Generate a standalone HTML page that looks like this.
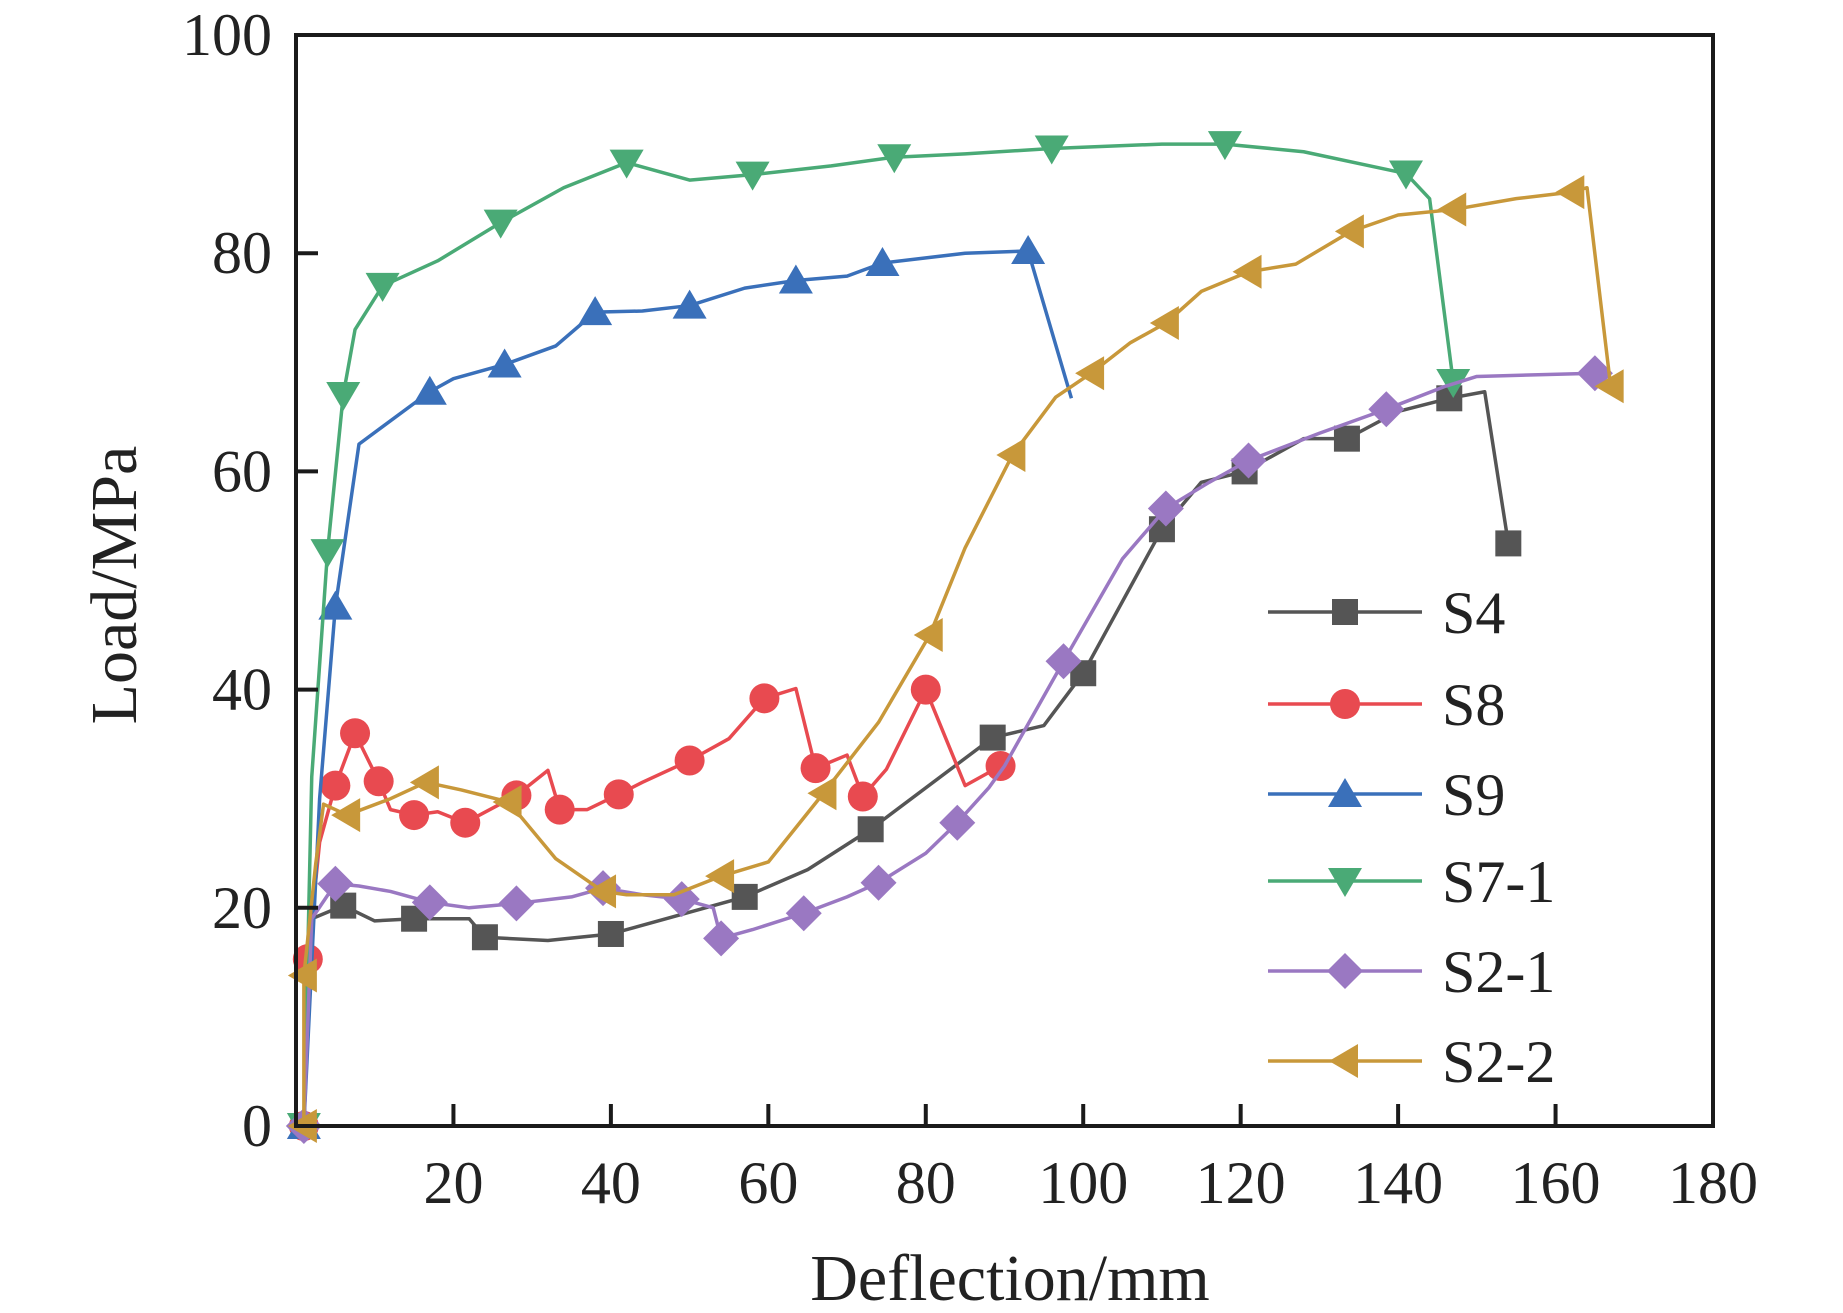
<!DOCTYPE html>
<html><head><meta charset="utf-8"><style>
html,body{margin:0;padding:0;background:#fff;}
svg{display:block;}
text{font-family:"Liberation Serif",serif;fill:#222;}
</style></head><body>
<svg id="chart" width="1843" height="1313" viewBox="0 0 1843 1313" xmlns="http://www.w3.org/2000/svg">
<g id="plot"></g>
<g id="axes"></g>
<g id="legend"></g>
</svg>
<script>
const seriesNames = ["S4","S8","S9","S7-1","S2-1","S2-2"];
const seriesColors = ["#555555","#e84a50","#3a70ba","#4aaa76","#9a78c2","#c8983a"];
const seriesMarkers = ["square","circle","up","down","diamond","left"];
// each point: [deflection, load, hasMarker]
const s4 = [[1,0,1],[2,19,0],[6,20.2,1],[10,18.8,0],[15,19,1],[22,19,0],[24,17.3,1],[32,17,0],[40,17.6,1],[57,21,1],[65,23.5,0],[73,27.2,1],[88.5,35.6,1],[95,36.7,0],[100,41.5,1],[110,54.7,1],[115,59,0],[120.5,60,1],[128,63,0],[133.5,63,1],[140,65.5,0],[146.5,66.7,1],[151,67.3,0],[154,53.4,1]];
const s8 = [[1,0,1],[1.5,15.3,1],[3,26,0],[5,31.2,1],[7.5,36,1],[10.5,31.6,1],[12,29,0],[15,28.5,1],[18,28.8,0],[21.5,27.8,1],[28,30.3,1],[32,32.6,0],[33.5,29,1],[37,29,0],[41,30.4,1],[44,31.5,0],[50,33.5,1],[55,35.5,0],[59.5,39.2,1],[63.5,40.1,0],[66,32.8,1],[70,34,0],[72,30.2,1],[75,32.7,0],[80,40,1],[85,31.2,0],[89.5,33,1]];
const s9 = [[1,0,1],[3,30,0],[5,47.6,1],[8,62.5,0],[17,67.3,1],[20,68.5,0],[26.5,69.8,1],[33,71.5,0],[38,74.6,1],[44,74.7,0],[50,75.2,1],[57,76.8,0],[63.5,77.5,1],[70,77.9,0],[74.5,79.1,1],[85,80,0],[93,80.2,1],[98.5,66.7,0]];
const s71 = [[1,0,1],[2,32,0],[4,52.6,1],[6,67,1],[7.5,73,0],[11,77,1],[18,79.3,0],[26,82.8,1],[34,86,0],[42,88.3,1],[50,86.7,0],[58,87.2,1],[68,88,0],[76,88.8,1],[85,89.1,0],[96,89.6,1],[110,90,0],[118,90,1],[128,89.3,0],[141,87.3,1],[144,85,0],[147,68.2,1]];
const s21 = [[1,0,1],[2,19,0],[5,22.2,1],[8,22,0],[12,21.5,0],[17,20.5,1],[22,20,0],[28,20.4,1],[35,21,0],[39,21.8,1],[44,21.2,0],[49,20.8,1],[53,20,0],[54,17.2,1],[58,18,0],[64.5,19.5,1],[70,21,0],[74,22.3,1],[80,25,0],[84,27.8,1],[88,31,0],[90,33,0],[97.5,42.6,1],[105,52,0],[110.5,56.6,1],[116,59,0],[121,61,1],[130,63.5,0],[138.5,65.7,1],[146,67.8,0],[150,68.7,0],[165,69,1]];
const s22 = [[1,0,1],[1,13.8,1],[2.5,24,0],[3.5,29.5,0],[6.5,28.5,1],[12,30,0],[16.5,31.5,1],[21,30.8,0],[27,29.7,1],[33,24.5,0],[39,21.5,1],[42,21.2,0],[48,21.2,0],[54,22.9,1],[60,24.2,0],[67,30.5,1],[74,37,0],[80.5,45,1],[85,53,0],[91,61.5,1],[96.5,66.8,0],[101,69,1],[106,71.8,0],[110.5,73.6,1],[115,76.5,0],[121,78.3,1],[127,79,0],[134,82,1],[140,83.5,0],[147,84,1],[155,85,0],[162,85.6,1],[164,86,0],[167,67.8,1]];
const seriesData = [s4,s8,s9,s71,s21,s22];
const xTicks = [20,40,60,80,100,120,140,160,180];
const yTicks = [0,20,40,60,80,100];

const L=296,R=1713,T=35,B=1126,XMAX=180,YMAX=100;
const xs = v => L + v/XMAX*(R-L);
const ys = v => B - v/YMAX*(B-T);
const NS="http://www.w3.org/2000/svg";
function mk(tag,attrs,parent){const e=document.createElementNS(NS,tag);for(const k in attrs)e.setAttribute(k,attrs[k]);parent.appendChild(e);return e;}

function marker(type,cx,cy,color,parent){
  const s=15;let e;
  if(type==="circle") e=mk("circle",{cx:cx,cy:cy,r:15,fill:color},parent);
  else if(type==="square") e=mk("rect",{x:cx-13,y:cy-13,width:26,height:26,fill:color},parent);
  else {
    let p;
    if(type==="up") p=[[0,-s-1],[s+2,s-2],[-s-2,s-2]];
    else if(type==="down") p=[[0,s+1],[s+2,-s+2],[-s-2,-s+2]];
    else if(type==="left") p=[[-s-1,0],[s-2,-s-2],[s-2,s+2]];
    else p=[[0,-s-3],[s+3,0],[0,s+3],[-s-3,0]];
    e=mk("polygon",{points:p.map(q=>(cx+q[0])+","+(cy+q[1])).join(" "),fill:color},parent);
  }
  return e;
}

const plot=document.getElementById("plot");
seriesData.forEach((data,i)=>{
  const g=mk("g",{},plot);
  
  
  const line=mk("polyline",{points:data.map(d=>xs(d[0])+","+ys(d[1])).join(" "),fill:"none",stroke:seriesColors[i],"stroke-width":3.5,"stroke-linejoin":"round"},g);
  
  
  data.forEach(d=>{ if(d[2]){
    const m=marker(seriesMarkers[i],xs(d[0]),ys(d[1]),seriesColors[i],g);
    
    
  }});
});

const ax=document.getElementById("axes");
const frame=mk("rect",{x:L,y:T,width:R-L,height:B-T,fill:"none",stroke:"#1a1a1a","stroke-width":4},ax);


xTicks.forEach(v=>{
  if(v<XMAX){const t=mk("line",{x1:xs(v),x2:xs(v),y1:B,y2:B-22,stroke:"#1a1a1a","stroke-width":4},ax);
  
  }
  const l=mk("text",{x:xs(v),y:1203,"text-anchor":"middle","font-size":60},ax);
  l.textContent=v;
  
  
});
yTicks.forEach(v=>{
  if(v>0&&v<YMAX){const t=mk("line",{x1:L,x2:L+22,y1:ys(v),y2:ys(v),stroke:"#1a1a1a","stroke-width":4},ax);
  
  }
  const l=mk("text",{x:272,y:ys(v)+20,"text-anchor":"end","font-size":60},ax);
  l.textContent=v;
  
  
});
const xt=mk("text",{x:1010,y:1300,"text-anchor":"middle","font-size":66},ax);
xt.textContent="Deflection/mm";


const yt=mk("text",{x:0,y:0,"text-anchor":"middle","font-size":66,transform:"translate(136,585) rotate(-90)"},ax);
yt.textContent="Load/MPa";



const lg=document.getElementById("legend");
const legY=[612,704,794,881,971,1061];
seriesNames.forEach((n,i)=>{
  const g=mk("g",{},lg);
  
  
  mk("line",{x1:1268,x2:1422,y1:legY[i],y2:legY[i],stroke:seriesColors[i],"stroke-width":3.5},g);
  marker(seriesMarkers[i],1345,legY[i],seriesColors[i],g);
  const t=mk("text",{x:1442,y:legY[i]+21,"font-size":60},g);
  t.textContent=n;
});
</script>
</body></html>
